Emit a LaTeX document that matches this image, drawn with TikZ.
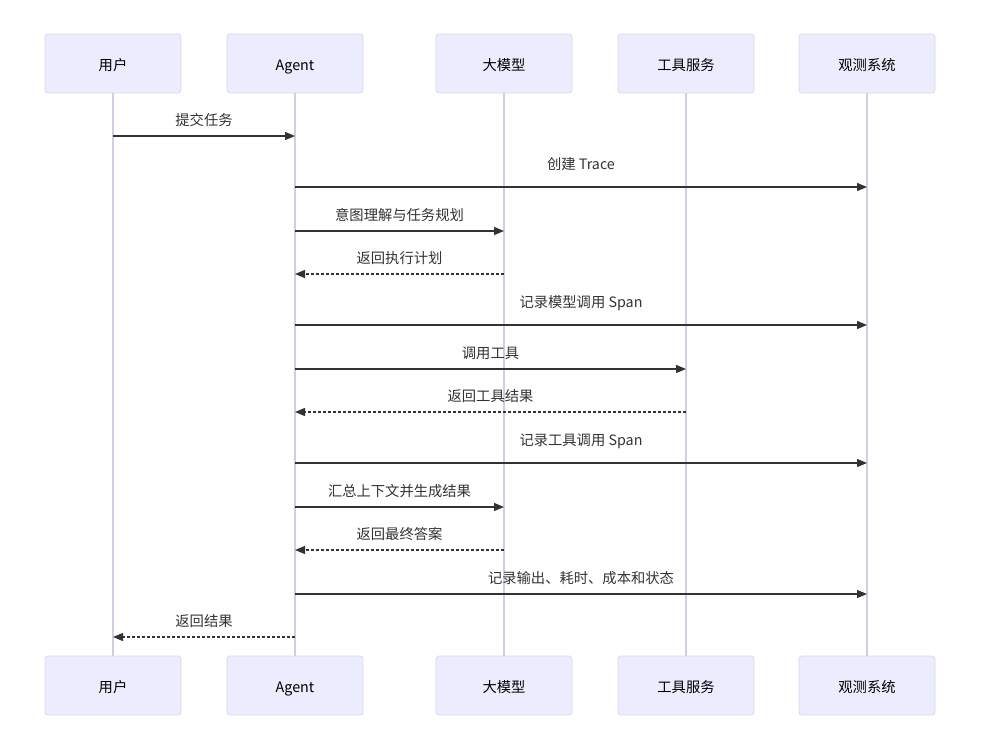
\documentclass[tikz,border=0pt]{standalone}
\usepackage{fontspec}
\setmainfont{Noto Sans CJK SC}
\usetikzlibrary{arrows.meta}
\definecolor{boxfill}{HTML}{ECECFF}
\definecolor{boxline}{HTML}{DAD7F0}
\definecolor{lifeline}{HTML}{D0CCEA}
\definecolor{msgcol}{HTML}{333333}
\tikzset{
  actor/.style={draw=boxline, fill=boxfill, rounded corners=3pt, line width=0.8pt,
    minimum width=136pt, minimum height=59pt, inner sep=0pt,
    text height=16pt, text depth=1.6pt,
    font=\fontsize{14.3}{16}\selectfont, text=black},
  life/.style={draw=lifeline, line width=1.1pt},
  msg/.style={draw=msgcol, line width=1.3pt, -{Triangle[length=10pt,width=8pt]}},
  ret/.style={msg, dash pattern=on 3pt off 2pt},
  lbl/.style={font=\fontsize{14.3}{16}\selectfont, text=msgcol, inner sep=0pt,
    text height=10pt, text depth=3pt}
}
\begin{document}
\begin{tikzpicture}[x=1pt,y=-1pt]
\useasboundingbox[fill=white] (0,0) rectangle (981,750);
% top actors
\node[actor] (u)  at (113,63.5) {用户};
\node[actor] (a)  at (295,63.5) {Agent};
\node[actor] (l)  at (504,63.5) {大模型};
\node[actor] (t)  at (686,63.5) {工具服务};
\node[actor] (o)  at (867,63.5) {观测系统};
% bottom actors
\node[actor] (ub) at (113,685.5) {用户};
\node[actor] (ab) at (295,685.5) {Agent};
\node[actor] (lb) at (504,685.5) {大模型};
\node[actor] (tb) at (686,685.5) {工具服务};
\node[actor] (ob) at (867,685.5) {观测系统};
% lifelines
\draw[life] (u.south) -- (ub.north);
\draw[life] (a.south) -- (ab.north);
\draw[life] (l.south) -- (lb.north);
\draw[life] (t.south) -- (tb.north);
\draw[life] (o.south) -- (ob.north);
% message rows
\coordinate (r1) at (0,136);
\coordinate (r2) at (0,187);
\coordinate (r3) at (0,231);
\coordinate (r4) at (0,274);
\coordinate (r5) at (0,325);
\coordinate (r6) at (0,369);
\coordinate (r7) at (0,412);
\coordinate (r8) at (0,463);
\coordinate (r9) at (0,507);
\coordinate (r10) at (0,550);
\coordinate (r11) at (0,594);
\coordinate (r12) at (0,637);
% messages
\draw[msg] (u |- r1) -- node[lbl, above=7pt] {提交任务} (a |- r1);
\draw[msg] (a |- r2) -- node[lbl, above=14pt] {创建 Trace} (o |- r2);
\draw[msg] (a |- r3) -- node[lbl, above=7pt] {意图理解与任务规划} (l |- r3);
\draw[ret] (l |- r4) -- node[lbl, above=7pt] {返回执行计划} (a |- r4);
\draw[msg] (a |- r5) -- node[lbl, above=14pt] {记录模型调用 Span} (o |- r5);
\draw[msg] (a |- r6) -- node[lbl, above=7pt] {调用工具} (t |- r6);
\draw[ret] (t |- r7) -- node[lbl, above=7pt] {返回工具结果} (a |- r7);
\draw[msg] (a |- r8) -- node[lbl, above=14pt] {记录工具调用 Span} (o |- r8);
\draw[msg] (a |- r9) -- node[lbl, above=7pt] {汇总上下文并生成结果} (l |- r9);
\draw[ret] (l |- r10) -- node[lbl, above=7pt] {返回最终答案} (a |- r10);
\draw[msg] (a |- r11) -- node[lbl, above=7pt] {记录输出、耗时、成本和状态} (o |- r11);
\draw[ret] (a |- r12) -- node[lbl, above=7pt] {返回结果} (u |- r12);
\end{tikzpicture}
\end{document}
